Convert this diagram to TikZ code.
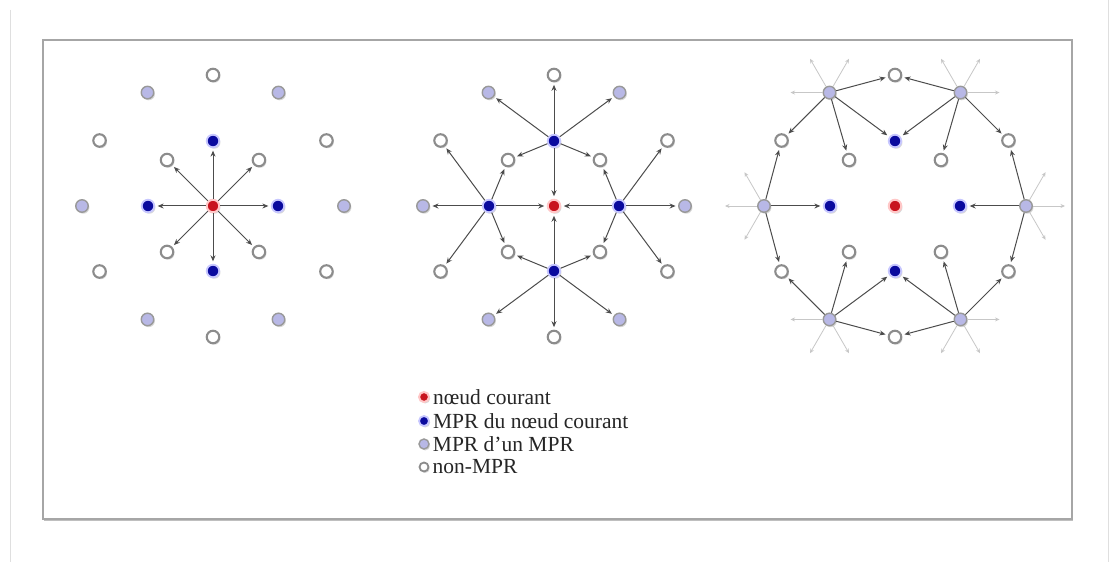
\documentclass[tikz,border=0pt]{standalone}
\usepackage{fontspec}
\setmainfont{Liberation Serif}
\usetikzlibrary{
  arrows.meta, % for the Stealth arrow tips
  positioning, % to place the legend texts next to their bullets
  shadows, % soft shadows under the nodes and the frame
}
\definecolor{curred}{HTML}{C8141E}
\definecolor{mprblue}{HTML}{0A0A9E}
\definecolor{mprlav}{HTML}{B8B8E6}
\tikzset{
  node/.style={ % common look of every station
    circle,inner sep=0pt,
    minimum size=12.5pt,
    drop shadow={opacity=.3,shadow xshift=1.2pt,shadow yshift=-1.5pt},
  },
  cur/.style={node,fill=curred,draw=red!22,line width=2pt}, % current node
  mpr/.style={node,fill=mprblue,draw=blue!22,line width=1.8pt}, % its MPRs
  mprmpr/.style={node,fill=mprlav,draw=gray!80,line width=1.4pt}, % MPRs of an MPR
  nonmpr/.style={node,fill=white,draw=gray!90,line width=2.1pt}, % all other nodes
  link/.style={ % a forwarded message
    draw=black!70,line width=1pt,
    -{Stealth[length=6pt,width=5pt]},
    shorten >=2.5pt,
  },
  faint/.style={ % messages going further out
    draw=black!22,line width=.8pt,
    -{Stealth[length=4.5pt,width=4pt]},
  },
  legtext/.style={
    inner sep=1pt,text=black!85,
    font=\fontsize{21.5}{24}\selectfont,
  },
}
% one panel of stations around a current node
\newcommand\stations[1]{%
  \node[cur] (#1-c) at (0,0) {};
  \foreach \a in {0,90,180,270} \node[mpr] (#1-m\a) at (\a:65) {};
  \foreach \a in {45,135,225,315} \node[nonmpr] (#1-w\a) at (\a:65) {};
  \foreach \a in {0,60,...,300} \node[mprmpr] (#1-l\a) at (\a:131) {};
  \foreach \a in {30,90,...,330} \node[nonmpr] (#1-o\a) at (\a:131) {};
}

\begin{document}
\begin{tikzpicture}[x=1pt,y=1pt]
	\useasboundingbox (0,0) rectangle (1116,562);

	% page margins and frame
	\draw[gray!25,line width=.8pt] (10,552) -- (10,0);
	\draw[gray!25,line width=.8pt] (1108,562) -- (1108,0);
	\draw[gray!70,line width=1.4pt,fill=white,
	  drop shadow={opacity=.5,shadow xshift=1.2pt,shadow yshift=-2pt}]
	  (43,43) rectangle (1072,522);

	% flooding from the current node
	\begin{scope}[shift={(213,356)}]
		\stations{a}
		\foreach \t in {m0,m90,m180,m270,w45,w135,w225,w315}
			\draw[link] (a-c) -- (a-\t);
	\end{scope}

	% the MPRs of the current node relay
	\begin{scope}[shift={(554,356)}]
		\stations{b}
		\foreach \s in {m0,m90,m180,m270}
			\draw[link] (b-\s) -- (b-c);
		\foreach \s/\t in {m90/o90,m90/l60,m90/l120,m90/w45,m90/w135,
		                   m0/l0,m0/o30,m0/o330,m0/w45,m0/w315,
		                   m180/l180,m180/o150,m180/o210,m180/w135,m180/w225,
		                   m270/o270,m270/l240,m270/l300,m270/w225,m270/w315}
			\draw[link] (b-\s) -- (b-\t);
	\end{scope}

	% the MPRs of the MPRs relay
	\begin{scope}[shift={(895,356)}]
		\stations{c}
		\foreach \s/\t in {l60/o90,l60/o30,l60/w45,l60/m90,
		                   l120/o90,l120/o150,l120/w135,l120/m90,
		                   l0/m0,l0/o30,l0/o330,
		                   l180/m180,l180/o150,l180/o210,
		                   l240/o210,l240/w225,l240/m270,l240/o270,
		                   l300/o330,l300/w315,l300/m270,l300/o270}
			\draw[link] (c-\s) -- (c-\t);
		\foreach \a in {0,60,...,300}
			\foreach \d/\n in {-60/r,0/s,60/l} {
				\path (c-l\a) ++(\a+\d:39) coordinate (c-l\a-\n);
				\draw[faint] (c-l\a) -- (c-l\a-\n);
			}
	\end{scope}

	% legend
	\node[cur,minimum size=10pt] (k1) at (424,165) {};
	\node[mpr,minimum size=10pt] (k2) at (424,141) {};
	\node[mprmpr,minimum size=10pt] (k3) at (424,118) {};
	\node[nonmpr,minimum size=9pt,line width=1.8pt] (k4) at (424,95) {};
	\node[legtext,right=2pt of k1] (t1) {nœud courant};
	\node[legtext,right=2pt of k2] (t2) {MPR du nœud courant};
	\node[legtext,right=2pt of k3] (t3) {MPR d’un MPR};
	\node[legtext,right=2pt of k4] (t4) {non-MPR};

\end{tikzpicture}
\end{document}
